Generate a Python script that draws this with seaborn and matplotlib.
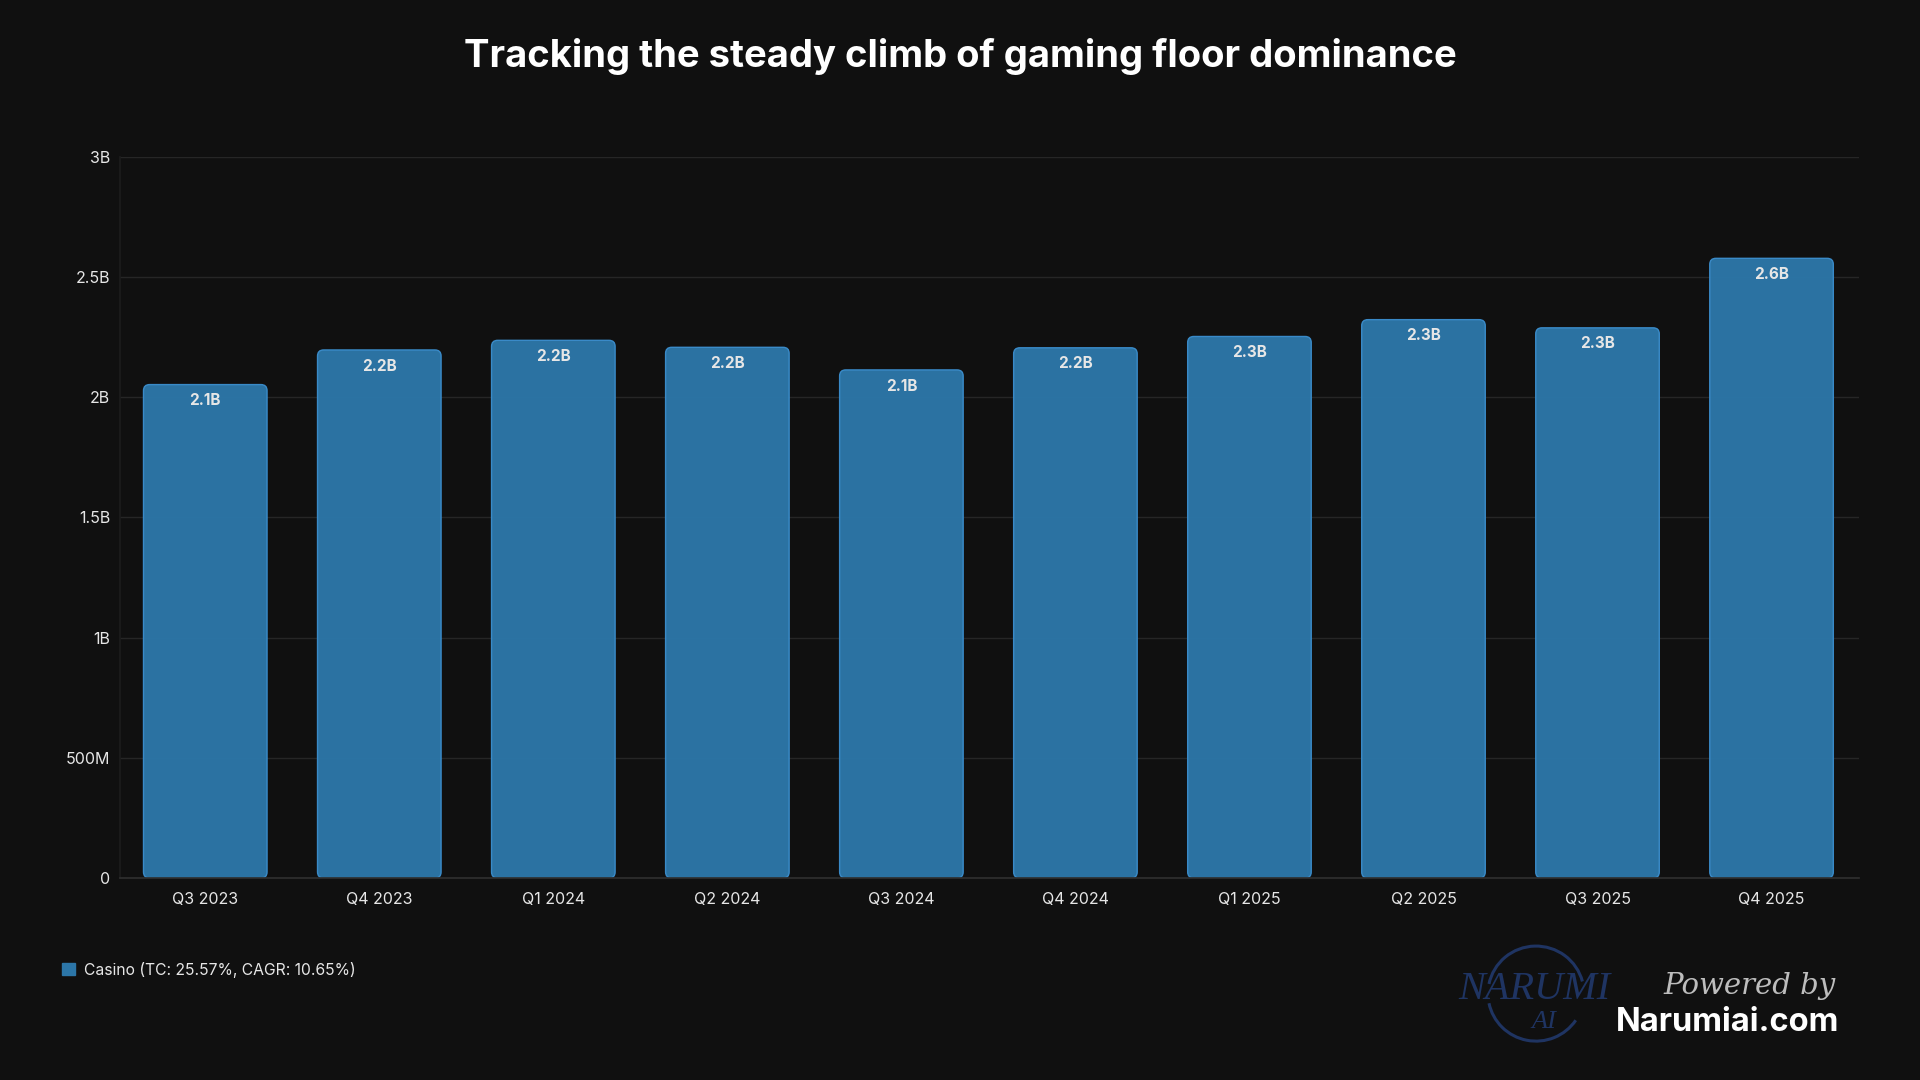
import matplotlib.pyplot as plt
from matplotlib.patches import FancyBboxPatch, Arc
from matplotlib.ticker import FuncFormatter
import numpy as np
import pandas as pd
import seaborn as sns

# data
quarters = ['Q3 2023', 'Q4 2023', 'Q1 2024', 'Q2 2024', 'Q3 2024',
            'Q4 2024', 'Q1 2025', 'Q2 2025', 'Q3 2025', 'Q4 2025']
casino = [2.052e9, 2.196e9, 2.236e9, 2.207e9, 2.113e9,
          2.205e9, 2.252e9, 2.322e9, 2.288e9, 2.577e9]
series_name = 'Casino (TC: 25.57%, CAGR: 10.65%)'
yticks = [0, 0.5e9, 1e9, 1.5e9, 2e9, 2.5e9, 3e9]

BG = '#101010'
BAR = '#2c76a8'
EDGE = '#3b8dcc'
TXT = '#e6e6e6'
LOGO = '#1f3462'

sns.set_theme(style='dark')
plt.rcParams['font.family'] = ['Inter', 'DejaVu Sans']

df = pd.DataFrame({'quarter': quarters, 'value': casino})

fig = plt.figure(figsize=(19.2, 10.8), dpi=100, facecolor=BG)
ax = fig.add_axes([0.0625, 0.187, 0.9055, 0.668], facecolor=BG)

sns.barplot(data=df, x='quarter', y='value', color=BAR, saturation=1,
            width=0.71, ax=ax)

ax.set_ylim(0, 3e9)
ax.set_xlim(-0.49, 9.5)
ax.set_yticks(yticks)


def fmt(v, pos):
    if v == 0:
        return '0'
    if v >= 1e9:
        return f'{v/1e9:g}B'
    return f'{v/1e6:g}M'


ax.yaxis.set_major_formatter(FuncFormatter(fmt))
ax.grid(axis='y', color='#262626', linewidth=1)
ax.grid(axis='x', visible=False)
ax.set_axisbelow(True)
for s in ['top', 'right']:
    ax.spines[s].set_visible(False)
ax.spines['left'].set_color('#1c1c1c')
ax.spines['bottom'].set_color('#2e2e2e')
ax.tick_params(axis='both', colors=TXT, labelsize=11.5, length=0)
ax.tick_params(axis='x', pad=10)
ax.tick_params(axis='y', pad=7)
ax.set_xlabel('')
ax.set_ylabel('')

# value labels inside the bar tops
cont = ax.containers[0]
ax.bar_label(cont, labels=[f'{v/1e9:.1f}B' for v in casino], padding=-17,
             color=TXT, fontsize=11, fontweight='bold')

# swap rectangles for rounded ones
xpp = 9.99 / (0.9055 * 1920)
ypp = 3e9 / (0.668 * 1080)
for p in list(cont.patches):
    x, y = p.get_x(), p.get_y()
    w, h = p.get_width(), p.get_height()
    rp = FancyBboxPatch((x, y), w, h,
                        boxstyle='round,pad=0,rounding_size=0.035',
                        mutation_aspect=ypp / xpp,
                        facecolor=BAR, edgecolor=EDGE, linewidth=1.0,
                        alpha=0.97)
    ax.add_patch(rp)
    p.set_visible(False)

# title
fig.text(0.5, 0.948, 'Tracking the steady climb of gaming floor dominance',
         ha='center', va='center', color='white', fontsize=27.5,
         fontweight='bold')

# legend
handle = plt.Rectangle((0, 0), 1, 1, facecolor=BAR, edgecolor=BAR)
fig.legend([handle], [series_name], loc='center left',
           bbox_to_anchor=(0.025, 0.102), frameon=False, handlelength=0.8,
           handleheight=0.8, handletextpad=0.6, labelcolor=TXT, fontsize=11.3)

# branding
fig.text(0.799, 0.084, 'NARUMI', ha='center', va='center', color=LOGO,
         fontsize=29, family='Liberation Serif', style='italic')
fig.text(0.804, 0.054, 'AI', ha='center', va='center', color=LOGO,
         fontsize=19, family='Liberation Serif', style='italic')
fig.add_artist(Arc((0.800, 0.080), 0.050, 0.088, theta1=25, theta2=160,
                   transform=fig.transFigure, color=LOGO, linewidth=2.2))
fig.add_artist(Arc((0.800, 0.080), 0.050, 0.088, theta1=200, theta2=310,
                   transform=fig.transFigure, color=LOGO, linewidth=2.2))
fig.text(0.911, 0.087, 'Powered by', ha='center', va='center',
         color='#bdbdbd', fontsize=21, family='DejaVu Serif', style='italic')
fig.text(0.958, 0.053, 'Narumiai.com', ha='right', va='center',
         color='white', fontsize=23.5, fontweight='bold')

fig.savefig('out.png', dpi=100, facecolor=BG)
